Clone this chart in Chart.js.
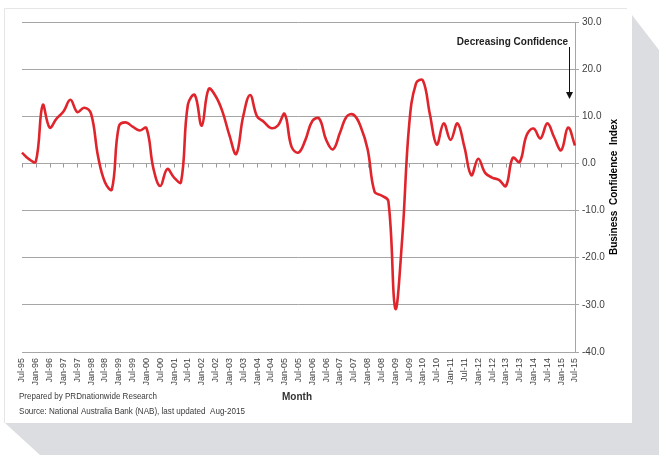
<!DOCTYPE html>
<html>
<head>
<meta charset="utf-8">
<script src="https://cdn.jsdelivr.net/npm/chart.js@4/dist/chart.umd.min.js"></script>
<style>
  html, body { margin: 0; padding: 0; background: #fff; }
  #wrap { width: 659px; height: 455px; }
</style>
</head>
<body>
<div id="wrap"><canvas id="nabChart" width="659" height="455"></canvas></div>
<script>
'use strict';

/**
 * data (quarterly readings, Jul-95 .. Jul-15)
 */

const startYear = 1995;
const quarterMonths = ["Jul", "Oct", "Jan", "Apr"];
const confidence = [
  2.3, 0.9, 0.4, 12.4, 7.6, 9.5, 11.0, 13.5, 10.9, 11.8,
  10.5, 1.5, -4.0, -5.5, 7.8, 8.7, 7.8, 7.0, 7.5, -1.0,
  -4.8, -1.2, -3.0, -4.0, 12.5, 14.5, 8.0, 15.8, 14.3, 11.0,
  6.0, 2.0, 10.0, 14.5, 10.0, 8.8, 7.5, 8.0, 10.5, 3.5,
  2.3, 5.0, 9.0, 9.5, 5.0, 3.0, 6.5, 10.0, 10.3, 7.8,
  3.0, -6.0, -6.8, -8.0, -30.8, -16.0, 8.0, 17.0, 17.6, 10.5,
  4.0, 8.5, 5.0, 8.5, 3.5, -2.5, 1.0, -2.0, -3.0, -3.5,
  -4.8, 1.2, 0.3, 6.0, 7.4, 5.3, 8.5, 5.5, 2.8, 7.6, 3.8
];
const yTicks = [-40, -30, -20, -10, 0, 10, 20, 30];

// quarter labels: Jul-95, Oct-95, Jan-96 ...
const quarters = [];
for (let i = 0; i < confidence.length; i++) {
  const m = quarterMonths[i % 4];
  const yr = startYear + Math.floor((i + 2) / 4);
  quarters.push(m + "-" + String(yr % 100).padStart(2, "0"));
}

const FONT = "'Liberation Sans', Arial, sans-serif";

/**
 * page decoration: card, grey shadow, notes, axis title, arrow
 */

const decorations = {
  id: "decorations",
  beforeDraw(chart) {
    const ctx = chart.ctx;
    ctx.save();
    ctx.fillStyle = "#ffffff";
    ctx.fillRect(0, 0, chart.width, chart.height);

    // grey shadow around the card
    ctx.fillStyle = "#dcdde0";
    ctx.beginPath();
    ctx.moveTo(632, 15);
    ctx.lineTo(659, 50);
    ctx.lineTo(659, 455);
    ctx.lineTo(40, 455);
    ctx.lineTo(5, 423);
    ctx.lineTo(632, 423);
    ctx.closePath();
    ctx.fill();

    // card
    ctx.fillStyle = "#ffffff";
    ctx.fillRect(4, 8, 628, 415);
    ctx.strokeStyle = "#e6e6e6";
    ctx.lineWidth = 1;
    ctx.beginPath();
    ctx.moveTo(4.5, 423);
    ctx.lineTo(4.5, 8.5);
    ctx.lineTo(627, 8.5);
    ctx.stroke();
    ctx.restore();
  },
  afterDraw(chart) {
    const ctx = chart.ctx;
    const area = chart.chartArea;
    const x = chart.scales.x;
    const y = chart.scales.y;
    ctx.save();

    // small tick marks on the zero line
    const y0 = Math.round(y.getPixelForValue(0)) + 0.5;
    ctx.strokeStyle = "#9a9a9a";
    ctx.lineWidth = 1;
    ctx.beginPath();
    for (let i = 0; i < quarters.length; i += 2) {
      const px = Math.round(x.getPixelForValue(i)) + 0.5;
      ctx.moveTo(px, y0);
      ctx.lineTo(px, y0 + 4);
    }
    ctx.stroke();

    // right axis title, reading upwards
    ctx.fillStyle = "#000";
    ctx.font = "bold 10px " + FONT;
    ctx.textAlign = "center";
    ctx.textBaseline = "middle";
    ctx.translate(614, (area.top + area.bottom) / 2);
    ctx.rotate(-Math.PI / 2);
    ctx.fillText("Business  Confidence  Index", 0, 0);
    ctx.setTransform(1, 0, 0, 1, 0, 0);

    // annotation + arrow
    const ax = Math.round(x.getPixelForValue(quarters.length - 1)) - 5.5;
    ctx.fillStyle = "#222";
    ctx.font = "bold 10px " + FONT;
    ctx.textAlign = "right";
    ctx.fillText("Decreasing Confidence", 568, 42);
    ctx.strokeStyle = "#111";
    ctx.lineWidth = 1;
    ctx.beginPath();
    ctx.moveTo(ax, 47);
    ctx.lineTo(ax, 93);
    ctx.stroke();
    ctx.fillStyle = "#111";
    ctx.beginPath();
    ctx.moveTo(ax - 3.5, 92);
    ctx.lineTo(ax + 3.5, 92);
    ctx.lineTo(ax, 99);
    ctx.closePath();
    ctx.fill();

    // x title and source notes
    ctx.textAlign = "center";
    ctx.fillStyle = "#333";
    ctx.font = "bold 10px " + FONT;
    ctx.fillText("Month", 297, 397);

    ctx.textAlign = "left";
    ctx.fillStyle = "#3a3a3a";
    ctx.font = "9px " + FONT;
    ctx.fillText("Prepared by PRDnationwide Research", 19, 397, 138);
    ctx.fillText("Source: National Australia Bank (NAB), last updated  Aug-2015", 19, 412, 226);
    ctx.restore();
  }
};

/**
 * chart
 */

const ctx = document.getElementById("nabChart").getContext("2d");
const nabChart = new Chart(ctx, {
  type: "line",
  data: {
    labels: quarters,
    datasets: [{
      label: "Business Confidence Index",
      data: confidence,
      borderColor: "#e0242b",
      borderWidth: 2.6,
      pointRadius: 0,
      tension: 0.4,
      fill: false
    }]
  },
  options: {
    responsive: false,
    devicePixelRatio: 1,
    animation: false,
    layout: { padding: { left: 22, top: 22, right: 0, bottom: 0 } },
    plugins: {
      legend: { display: false },
      tooltip: { enabled: false }
    },
    scales: {
      x: {
        grid: { display: false, drawTicks: false },
        border: { display: false },
        afterFit(scale) { scale.height = 103; },
        ticks: {
          autoSkip: false,
          minRotation: 90,
          maxRotation: 90,
          padding: 6,
          color: "#404040",
          font: { family: FONT, size: 9 },
          callback: function (val, i) {
            return i % 2 === 0 ? quarters[i] : "";
          }
        }
      },
      y: {
        position: "right",
        min: -40,
        max: 30,
        afterFit(scale) { scale.width = 84; },
        afterBuildTicks(scale) {
          scale.ticks = yTicks.map(v => ({ value: v }));
        },
        grid: { color: "#a6a6a6", lineWidth: 1, tickLength: 4 },
        border: { display: true, color: "#a6a6a6" },
        ticks: {
          padding: 3,
          color: "#404040",
          font: { family: FONT, size: 10 },
          callback: v => v.toFixed(1)
        }
      }
    }
  },
  plugins: [decorations]
});
</script>
</body>
</html>
